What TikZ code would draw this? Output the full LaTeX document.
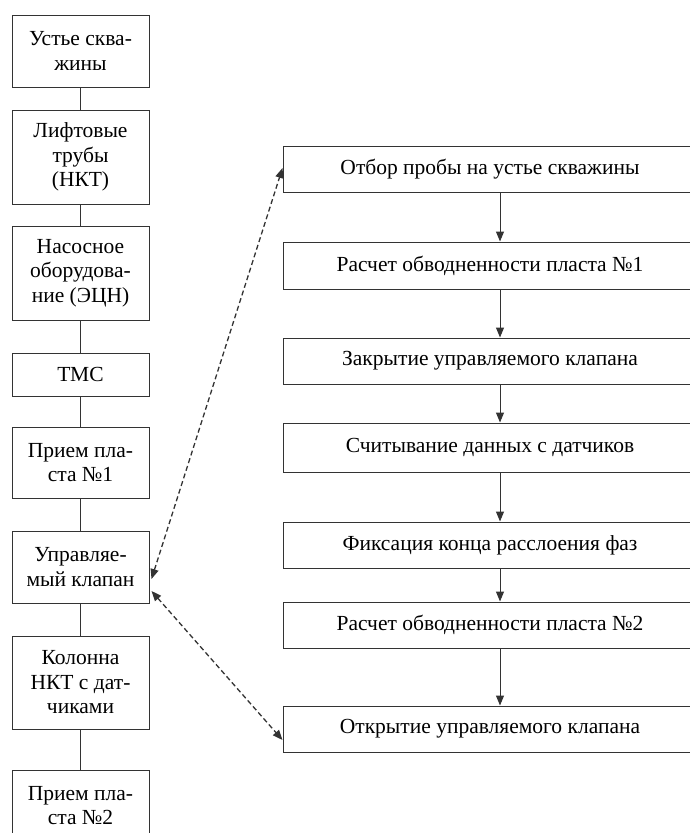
\documentclass[tikz,border=0pt]{standalone}
\usepackage{fontspec}
\setmainfont{Liberation Serif}
\usetikzlibrary{arrows.meta}
\begin{document}
\begin{tikzpicture}[x=1pt,y=-1pt,
  box/.style={draw=black!80,line width=1pt,fill=white,align=center,inner sep=0pt,
    font=\fontsize{21.5}{24.5}\selectfont},
  lbox/.style={box,minimum width=137pt},
  rbox/.style={box,minimum width=414pt},
  link/.style={draw=black!80,line width=1pt},
  flow/.style={link,-{Triangle[length=10pt,width=8pt]}},
  dashlink/.style={link,line width=1.3pt,dash pattern=on 5pt off 3pt,{Triangle[length=10pt,width=8pt]}-{Triangle[length=10pt,width=8pt]}}]
\useasboundingbox (0,0) rectangle (690,833);
% left column
\node[lbox,minimum height=72pt] (L1) at (80.5,51) {Устье сква-\\жины};
\node[lbox,minimum height=94pt] (L2) at (80.5,157) {Лифтовые\\трубы\\(НКТ)};
\node[lbox,minimum height=94pt] (L3) at (80.5,273) {Насосное\\оборудова-\\ние (ЭЦН)};
\node[lbox,minimum height=43pt] (L4) at (80.5,374.5) {ТМС};
\node[lbox,minimum height=71pt] (L5) at (80.5,462.5) {Прием пла-\\ста №1};
\node[lbox,minimum height=72pt] (L6) at (80.5,567) {Управляе-\\мый клапан};
\node[lbox,minimum height=93pt] (L7) at (80.5,682.5) {Колонна\\НКТ с дат-\\чиками};
\node[lbox,minimum height=71pt] (L8) at (80.5,805.5) {Прием пла-\\ста №2};
\draw[link] (L1) -- (L2);
\draw[link] (L2) -- (L3);
\draw[link] (L3) -- (L4);
\draw[link] (L4) -- (L5);
\draw[link] (L5) -- (L6);
\draw[link] (L6) -- (L7);
\draw[link] (L7) -- (L8);
% right column
\node[rbox,minimum height=46pt] (R1) at (490,169) {Отбор пробы на устье скважины};
\node[rbox,minimum height=47pt] (R2) at (490,265.5) {Расчет обводненности пласта №1};
\node[rbox,minimum height=46pt] (R3) at (490,361) {Закрытие управляемого клапана};
\node[rbox,minimum height=49pt] (R4) at (490,447.5) {Считывание данных с датчиков};
\node[rbox,minimum height=46pt] (R5) at (490,545) {Фиксация конца расслоения фаз};
\node[rbox,minimum height=46pt] (R6) at (490,625) {Расчет обводненности пласта №2};
\node[rbox,minimum height=46pt] (R7) at (490,729) {Открытие управляемого клапана};
\coordinate (ax) at (500,0);
\draw[flow] (R1.south -| ax) -- (R2.north -| ax);
\draw[flow] (R2.south -| ax) -- (R3.north -| ax);
\draw[flow] (R3.south -| ax) -- (R4.north -| ax);
\draw[flow] (R4.south -| ax) -- (R5.north -| ax);
\draw[flow] (R5.south -| ax) -- (R6.north -| ax);
\draw[flow] (R6.south -| ax) -- (R7.north -| ax);
% dashed links
\draw[dashlink] ([shift={(2pt,-12pt)}]L6.east) -- ([yshift=1pt]R1.west);
\draw[dashlink] ([shift={(2pt,-24pt)}]L6.east) -- ([yshift=-11pt]R7.west);
\end{tikzpicture}
\end{document}
